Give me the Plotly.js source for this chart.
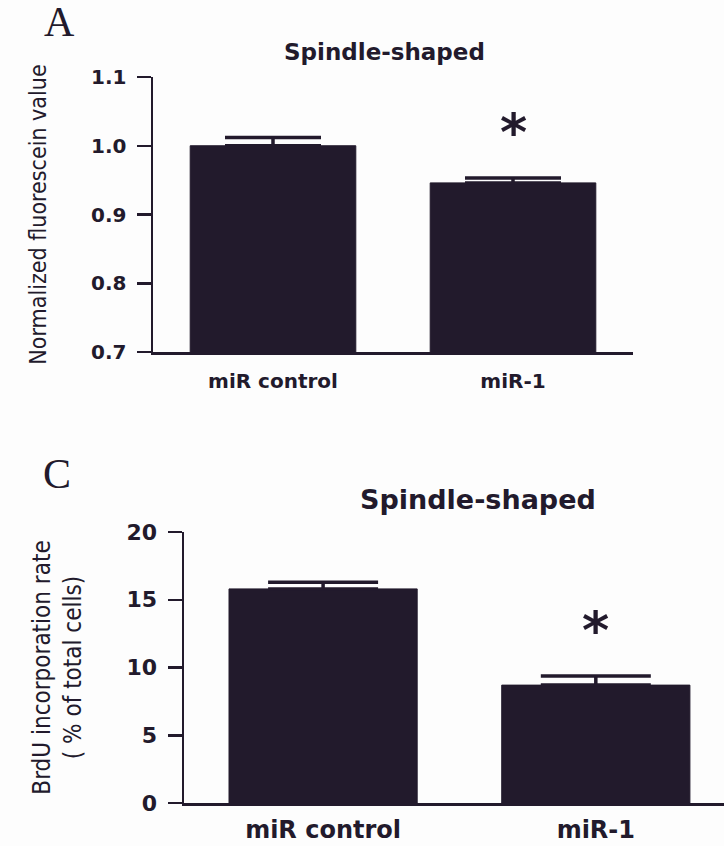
<!DOCTYPE html>
<html>
<head>
<meta charset="utf-8">
<script src="https://cdn.plot.ly/plotly-3.0.1.min.js"></script>
<style>
html,body{margin:0;padding:0;background:#fdfdfd;}
.ytitle, .y2title { font-stretch: condensed; }
</style>
</head>
<body>
<div id="chart" style="width:724px;height:846px;"></div>
<script>
// ---- data ----
const categories = ["miR control", "miR-1"];
const fluorValues = [1.0, 0.946];
const fluorErrors = [0.012, 0.007];
const brduValues = [15.8, 8.7];
const brduErrors = [0.5, 0.67];
const panelTitle = "Spindle-shaped";
const fluorYTitle = "Normalized fluorescein value";
const brduYTitle = "BrdU incorporation rate<br>( % of total cells)";
const fluorTickVals = [0.7, 0.8, 0.9, 1.0, 1.1];
const brduTickVals = [0, 5, 10, 15, 20];

const ink = "#221a2c";
const boldFont = "DejaVu Sans, Liberation Sans, Arial, sans-serif";
const narrowFont = "DejaVu Sans Condensed, Liberation Sans Narrow, Arial Narrow, sans-serif";
const serifFont = "Liberation Serif, DejaVu Serif, Times New Roman, serif";

const traces = [
  {
    type: "bar", x: categories, y: fluorValues, xaxis: "x", yaxis: "y",
    width: 0.69,
    marker: {color: ink, line: {color: ink, width: 1}},
    error_y: {type: "data", symmetric: false, array: fluorErrors, arrayminus: [0, 0],
              thickness: 3.5, width: 48, color: ink},
    hoverinfo: "x+y"
  },
  {
    type: "bar", x: categories, y: brduValues, xaxis: "x2", yaxis: "y2",
    width: 0.69,
    marker: {color: ink, line: {color: ink, width: 1}},
    error_y: {type: "data", symmetric: false, array: brduErrors, arrayminus: [0, 0],
              thickness: 3.5, width: 55, color: ink},
    hoverinfo: "x+y"
  }
];

const W = 724, H = 846;
function fx(px){ return px / W; }
function fy(py){ return (H - py) / H; }

const axisCommon = {
  showline: true, linewidth: 2.5, linecolor: ink, showgrid: false, zeroline: false,
  fixedrange: true
};

const layout = {
  width: W, height: H,
  margin: {l: 0, r: 0, t: 0, b: 0},
  paper_bgcolor: "#fdfdfd", plot_bgcolor: "rgba(0,0,0,0)",
  showlegend: false,
  bargap: 0.3,
  xaxis: Object.assign({}, axisCommon, {
    domain: [fx(153), fx(633)], anchor: "y", type: "category",
    range: [-0.5, 1.5], ticks: "", ticklabelstandoff: 9,
    tickfont: {family: boldFont, size: 20, color: ink, weight: "bold"}
  }),
  yaxis: Object.assign({}, axisCommon, {
    domain: [fy(352), fy(77)], anchor: "x",
    range: [0.7, 1.1], tickvals: fluorTickVals, tickformat: ".1f",
    ticks: "outside", ticklen: 14, tickwidth: 2.5, tickcolor: ink,
    ticklabelstandoff: 6,
    tickfont: {family: boldFont, size: 20, color: ink, weight: "bold"},
    title: {text: fluorYTitle, standoff: 38,
            font: {family: narrowFont, size: 23, color: ink}}
  }),
  xaxis2: Object.assign({}, axisCommon, {
    domain: [fx(184), 1], anchor: "y2", type: "category",
    range: [-0.51, 1.47], ticks: "", ticklabelstandoff: 4,
    tickfont: {family: boldFont, size: 24, color: ink, weight: "bold"}
  }),
  yaxis2: Object.assign({}, axisCommon, {
    domain: [fy(803), fy(532)], anchor: "x2",
    range: [0, 20], tickvals: brduTickVals,
    ticks: "outside", ticklen: 14, tickwidth: 2.5, tickcolor: ink,
    ticklabelstandoff: 6,
    tickfont: {family: boldFont, size: 22, color: ink, weight: "bold"},
    title: {text: brduYTitle, standoff: 38,
            font: {family: narrowFont, size: 24, color: ink}}
  }),
  annotations: [
    {text: "A", xref: "paper", yref: "paper", x: fx(59), y: fy(22),
     xanchor: "center", yanchor: "middle", showarrow: false,
     font: {family: serifFont, size: 42, color: ink}},
    {text: "C", xref: "paper", yref: "paper", x: fx(57), y: fy(474),
     xanchor: "center", yanchor: "middle", showarrow: false,
     font: {family: serifFont, size: 42, color: ink}},
    {text: panelTitle, xref: "paper", yref: "paper", x: fx(384), y: fy(52),
     xanchor: "center", yanchor: "middle", showarrow: false,
     font: {family: boldFont, size: 23, color: ink, weight: "bold"}},
    {text: panelTitle, xref: "paper", yref: "paper", x: fx(478), y: fy(500),
     xanchor: "center", yanchor: "middle", showarrow: false,
     font: {family: boldFont, size: 27, color: ink, weight: "bold"}},
    {text: "*", xref: "x", yref: "y", x: categories[1], y: fluorValues[1] + fluorErrors[1],
     xanchor: "center", yanchor: "middle", yshift: 46, showarrow: false,
     font: {family: boldFont, size: 52, color: ink, weight: "bold"}},
    {text: "*", xref: "x2", yref: "y2", x: categories[1], y: brduValues[1] + brduErrors[1],
     xanchor: "center", yanchor: "middle", yshift: 46, showarrow: false,
     font: {family: boldFont, size: 52, color: ink, weight: "bold"}}
  ]
};

Plotly.newPlot("chart", traces, layout, {displayModeBar: false, staticPlot: true});
</script>
</body>
</html>
